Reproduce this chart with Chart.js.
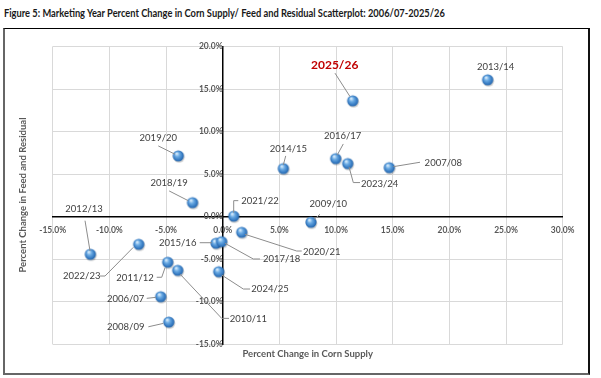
<!DOCTYPE html>
<html>
<head>
<meta charset="utf-8">
<script src="https://cdn.jsdelivr.net/npm/chart.js@4.4.1/dist/chart.umd.min.js"></script>
<style>
  body { margin: 0; background: #fff; }
  #title { position: absolute; left: 4px; top: 5px; font: bold 12px Lato, sans-serif; color: #1a1a1a; white-space: nowrap; transform-origin: 0 0; }
  #box { position: absolute; left: 3px; top: 28px; width: 583px; height: 344px; border-top: 1px solid #000; border-right: 2px solid #111; border-left: 2px solid #666; border-bottom: 2px solid #666; }
  #chart { position: absolute; left: 0; top: 0; }
</style>
</head>
<body>
<div id="title">Figure 5: Marketing Year Percent Change in Corn Supply/ Feed and Residual Scatterplot: 2006/07-2025/26</div>
<div id="box"></div>
<canvas id="chart" width="601" height="378"></canvas>
<script>
// marketing years and values (percent change)
const years = ['2006/07', '2007/08', '2008/09', '2009/10', '2010/11', '2011/12', '2012/13', '2013/14', '2014/15', '2015/16',
               '2016/17', '2017/18', '2018/19', '2019/20', '2020/21', '2021/22', '2022/23', '2023/24', '2024/25', '2025/26'];
const supplyChange = [-5.47, 14.70, -4.76, 7.79, -3.97, -4.85, -11.68, 23.38, 5.35, -0.59,
                      9.97, -0.09, -2.66, -3.92, 1.68, 0.97, -7.41, 11.03, -0.35, 11.47];
const feedChange = [-9.41, 5.76, -12.39, -0.66, -6.31, -5.36, -4.42, 16.08, 5.65, -3.13,
                    6.82, -2.94, 1.65, 7.14, -1.84, 0.05, -3.25, 6.24, -6.47, 13.61];
const xTicks = [-15, -10, -5, 0, 5, 10, 15, 20, 25, 30];
const yTicks = [-15, -10, -5, 0, 5, 10, 15, 20];

// fit title width to the original
const title = document.getElementById('title');
title.style.transform = 'scaleX(' + (441 / title.offsetWidth) + ')';

// label placement: text centre offset + leader line points, relative to the point
const labelPos = {
  '2006/07': { dx: -35, dy: 2, line: [[-14, 1.6], [-4.7, 0.6]] },
  '2007/08': { dx: 54, dy: -5, line: [[30.7, -5.4], [4, -1]] },
  '2008/09': { dx: -43, dy: 5.3, line: [[-20.4, 4.7], [-5.4, 1.3]] },
  '2009/10': { dx: 17.3, dy: -18.3, line: [[9, -8], [3.3, -3]] },
  '2010/11': { dx: 70.6, dy: 49, line: [[51.3, 48], [44, 48], [2.3, 3.7]] },
  '2011/12': { dx: -32.7, dy: 15.4, line: [[-11, 15], [-6, 15], [-2.7, 5.4]] },
  '2012/13': { dx: -6.3, dy: -45, line: [[-5.3, -33.6], [-0.3, -3.3]] },
  '2013/14': { dx: 8, dy: -13, line: null },
  '2014/15': { dx: 5, dy: -19.7, line: [[2.4, -12.7], [0, -3.7]] },
  '2015/16': { dx: -38.3, dy: 0, line: [[-16.3, -0.6], [-4.3, -0.6]] },
  '2016/17': { dx: 7, dy: -22.7, line: [[7.6, -14.7], [1.6, -3.7]] },
  '2017/18': { dx: 60, dy: 17.3, line: [[38.3, 17.3], [31.6, 17.3], [3.3, 1.6]] },
  '2018/19': { dx: -23.4, dy: -20, line: [[-23.4, -11.7], [-4.4, -2]] },
  '2019/20': { dx: -20, dy: -17.7, line: [[-20, -10], [-3.3, -1.7]] },
  '2020/21': { dx: 80, dy: 19.4, line: [[60, 18.7], [55, 18.7], [3.3, 2]] },
  '2021/22': { dx: 26.3, dy: -15.6, line: [[4.6, -15.6], [0, -15.6], [0, -3.6]] },
  '2022/23': { dx: -57, dy: 31.4, line: [[-38.7, 31.7], [-33.7, 31.7], [-5.4, 3]] },
  '2023/24': { dx: 32, dy: 20, line: [[12.3, 19], [5.6, 19], [1.3, 3.3]] },
  '2024/25': { dx: 51.3, dy: 17.6, line: [[31.3, 17.3], [24.6, 17.3], [3, 3.3]] },
  '2025/26': { dx: -18, dy: -36, line: [[-17.7, -27.7], [-2.7, -4.3]], bold: true }
};

// glossy blue marker
function makeSphere() {
  const c = document.createElement('canvas');
  c.width = 16; c.height = 16;
  const g = c.getContext('2d');
  g.fillStyle = 'rgba(0,0,0,0.18)';
  g.beginPath(); g.arc(8.8, 9.2, 5.6, 0, Math.PI * 2); g.fill();
  const grad = g.createRadialGradient(6.3, 5.6, 0.5, 8, 8, 6);
  grad.addColorStop(0, '#d8ecfc');
  grad.addColorStop(0.35, '#6aaae3');
  grad.addColorStop(0.8, '#2f74bd');
  grad.addColorStop(1, '#235d9b');
  g.fillStyle = grad;
  g.beginPath(); g.arc(8, 8, 5.6, 0, Math.PI * 2); g.fill();
  return c;
}

const labelPlugin = {
  id: 'yearLabels',
  afterDatasetsDraw(chart) {
    const ctx = chart.ctx;
    const meta = chart.getDatasetMeta(0);
    ctx.save();
    meta.data.forEach((pt, i) => {
      const p = labelPos[years[i]];
      if (!p) return;
      if (p.line) {
        ctx.strokeStyle = '#8c8c8c';
        ctx.lineWidth = 1;
        ctx.beginPath();
        p.line.forEach((q, k) => {
          if (k === 0) ctx.moveTo(pt.x + q[0], pt.y + q[1]);
          else ctx.lineTo(pt.x + q[0], pt.y + q[1]);
        });
        ctx.stroke();
      }
      ctx.textAlign = 'center';
      ctx.textBaseline = 'middle';
      if (p.bold) {
        ctx.font = 'bold 12px Lato, sans-serif';
        ctx.fillStyle = '#c00000';
      } else {
        ctx.font = '9.5px Lato, sans-serif';
        ctx.fillStyle = '#404040';
      }
      ctx.fillText(years[i], pt.x + p.dx, pt.y + p.dy);
    });
    // axis titles
    ctx.fillStyle = '#595959';
    ctx.font = 'bold 9.5px Lato, sans-serif';
    ctx.fillText('Percent Change in Corn Supply', 307.7, 354);
    ctx.translate(23, 195);
    ctx.rotate(-Math.PI / 2);
    ctx.fillText('Percent Change in Feed and Residual', 0, 0);
    ctx.restore();
  }
};

const tickFont = { family: 'Lato, sans-serif', size: 8.5, weight: 'bold' };

new Chart(document.getElementById('chart'), {
  type: 'scatter',
  data: {
    datasets: [{
      data: years.map((y, i) => ({ x: supplyChange[i], y: feedChange[i] })),
      pointStyle: makeSphere(),
      pointRadius: 6
    }]
  },
  options: {
    responsive: false,
    animation: false,
    layout: { padding: { left: 52.7, top: 46.5, right: 38.3, bottom: 33.7 } },
    plugins: { legend: { display: false }, tooltip: { enabled: false } },
    scales: {
      x: {
        type: 'linear',
        position: { y: 0 },
        min: -15, max: 30,
        afterBuildTicks: s => { s.ticks = xTicks.map(v => ({ value: v })); },
        ticks: { callback: v => v.toFixed(1) + '%', font: tickFont, color: '#595959', padding: 8, maxRotation: 0 },
        grid: { color: '#d9d9d9', drawTicks: false },
        border: { color: '#000', width: 1.5 }
      },
      y: {
        type: 'linear',
        position: { x: 0 },
        min: -15, max: 20,
        afterBuildTicks: s => { s.ticks = yTicks.map(v => ({ value: v })); },
        ticks: { callback: v => v.toFixed(1) + '%', font: tickFont, color: '#595959', padding: 9 },
        grid: { color: '#d9d9d9', drawTicks: false },
        border: { color: '#000', width: 1.5 }
      }
    }
  },
  plugins: [labelPlugin]
});
</script>
</body>
</html>
